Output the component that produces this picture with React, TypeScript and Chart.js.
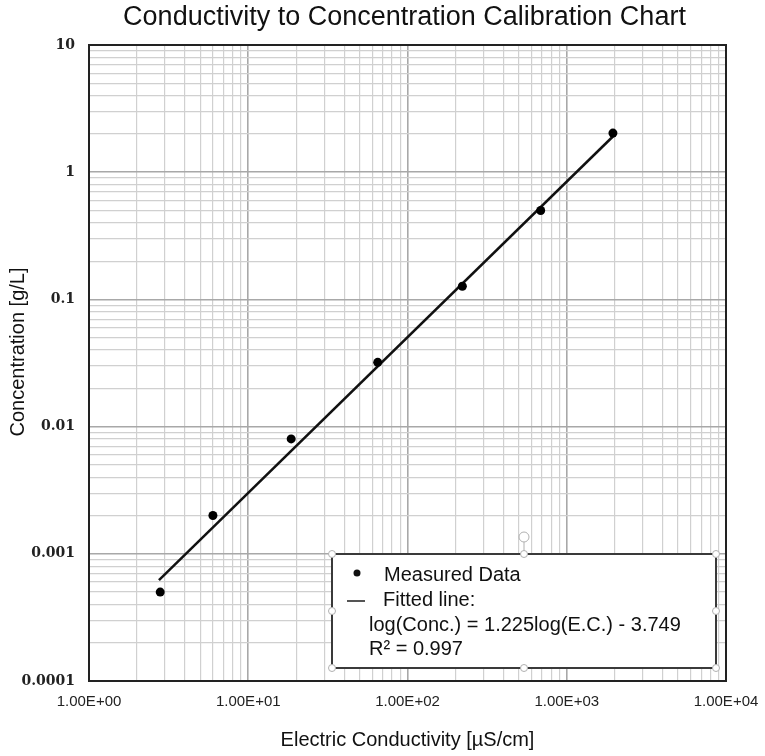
import React, { useEffect, useRef } from 'react';
import { Chart, registerables } from 'chart.js';

Chart.register(...registerables);

// ---- data ----
const conductivity = [2.8, 6.0, 18.6, 65, 221, 686, 1950];
const concentration = [0.0005, 0.002, 0.008, 0.032, 0.127, 0.5, 2.03];
const fitConductivity = [2.75, 2000];
const fitConcentration = [0.00062, 1.97];

const xMajorValues = [1, 10, 100, 1000, 10000];
const xMajorLabels = ['1.00E+00', '1.00E+01', '1.00E+02', '1.00E+03', '1.00E+04'];
const yMajorValues = [0.0001, 0.001, 0.01, 0.1, 1, 10];
const yMajorLabels = ['0.0001', '0.001', '0.01', '0.1', '1', '10'];

const chartTitle = 'Conductivity to Concentration Calibration Chart';
const xTitle = 'Electric Conductivity [\u00B5S/cm]';
const yTitle = 'Concentration [g/L]';
const seriesLabels = ['Measured Data', 'Fitted line:'];
const legendExtraLines = ['log(Conc.) = 1.225log(E.C.) - 3.749', 'R\u00B2 = 0.997'];

const SANS = '"Liberation Sans", Arial, sans-serif';
const SERIF = '"DejaVu Serif", "Liberation Serif", serif';

function isMajor(v: number): boolean {
  if (!(v > 0)) return false;
  const l = Math.log10(v);
  return Math.abs(l - Math.round(l)) < 1e-6;
}

function logTicks(minExp: number, maxExp: number) {
  const out: { value: number }[] = [];
  for (let e = minExp; e < maxExp; e++) {
    for (let m = 1; m <= 9; m++) out.push({ value: m * Math.pow(10, e) });
  }
  out.push({ value: Math.pow(10, maxExp) });
  return out;
}

function labelFor(values: number[], labels: string[], v: number): string {
  const i = values.findIndex((m) => Math.abs(Math.log10(m) - Math.log10(v)) < 1e-6);
  return i >= 0 ? labels[i] : '';
}

const decorPlugin = {
  id: 'decor',
  beforeDatasetsDraw(chart: any) {
    const { ctx, chartArea: a } = chart;
    ctx.save();
    ctx.strokeStyle = '#222';
    ctx.lineWidth = 2;
    ctx.strokeRect(a.left, a.top, a.right - a.left, a.bottom - a.top);
    ctx.restore();
  },
  afterDraw(chart: any) {
    const { ctx, chartArea: a } = chart;
    ctx.save();
    // main title
    ctx.fillStyle = '#111';
    ctx.font = `27px ${SANS}`;
    ctx.textAlign = 'center';
    ctx.textBaseline = 'middle';
    ctx.fillText(chartTitle, (a.left + a.right) / 2 - 3, 18);

    // y axis title
    ctx.save();
    ctx.translate(18, 352);
    ctx.rotate(-Math.PI / 2);
    ctx.font = `20px ${SANS}`;
    ctx.fillText(yTitle, 0, 0);
    ctx.restore();

    // legend box
    const L = a.right - 394;
    const R = a.right - 10;
    const T = a.bottom - 127;
    const B = a.bottom - 13;
    ctx.fillStyle = '#fff';
    ctx.fillRect(L, T, R - L, B - T);
    ctx.strokeStyle = '#3a3a3a';
    ctx.lineWidth = 2;
    ctx.strokeRect(L, T, R - L, B - T);

    // selection handles
    const mx = (L + R) / 2;
    const my = (T + B) / 2;
    ctx.strokeStyle = '#b0b0b0';
    ctx.lineWidth = 1;
    ctx.beginPath();
    ctx.moveTo(mx, T);
    ctx.lineTo(mx, T - 13);
    ctx.stroke();
    ctx.beginPath();
    ctx.arc(mx, T - 17, 5, 0, Math.PI * 2);
    ctx.fillStyle = '#fff';
    ctx.fill();
    ctx.stroke();
    const handles = [
      [L, T], [mx, T], [R, T], [L, my], [R, my], [L, B], [mx, B], [R, B],
    ];
    for (const [hx, hy] of handles) {
      ctx.beginPath();
      ctx.arc(hx, hy, 3.5, 0, Math.PI * 2);
      ctx.fillStyle = '#fff';
      ctx.fill();
      ctx.stroke();
    }

    // legend entries
    ctx.fillStyle = '#111';
    ctx.beginPath();
    ctx.arc(L + 25, T + 19, 3.5, 0, Math.PI * 2);
    ctx.fill();
    ctx.strokeStyle = '#555';
    ctx.lineWidth = 2;
    ctx.beginPath();
    ctx.moveTo(L + 15, T + 47);
    ctx.lineTo(L + 33, T + 47);
    ctx.stroke();

    ctx.font = `20px ${SANS}`;
    ctx.textAlign = 'left';
    ctx.textBaseline = 'alphabetic';
    ctx.fillStyle = '#111';
    ctx.fillText(chart.data.datasets[0].label, L + 52, T + 27);
    ctx.fillText(chart.data.datasets[1].label, L + 51, T + 52);
    ctx.fillText(legendExtraLines[0], L + 37, T + 77);
    ctx.fillText(legendExtraLines[1], L + 37, T + 101);
    ctx.restore();
  },
};

export default function App() {
  const canvasRef = useRef<HTMLCanvasElement | null>(null);

  useEffect(() => {
    if (!canvasRef.current) return;
    const chart = new Chart(canvasRef.current, {
      type: 'scatter',
      data: {
        datasets: [
          {
            label: seriesLabels[0],
            data: conductivity.map((x, i) => ({ x, y: concentration[i] })),
            pointRadius: 4.5,
            pointBackgroundColor: '#000',
            pointBorderColor: '#000',
            pointBorderWidth: 0,
            showLine: false,
            order: 1,
          },
          {
            label: seriesLabels[1],
            data: fitConductivity.map((x, i) => ({ x, y: fitConcentration[i] })),
            showLine: true,
            borderColor: '#111',
            borderWidth: 2.5,
            pointRadius: 0,
            order: 2,
          },
        ],
      },
      options: {
        responsive: false,
        animation: false,
        devicePixelRatio: 1,
        layout: { padding: { top: 45, right: 39, left: 0, bottom: 0 } },
        plugins: {
          legend: { display: false },
          title: { display: false },
          tooltip: { enabled: false },
        },
        scales: {
          x: {
            type: 'logarithmic',
            min: 1,
            max: 10000,
            afterBuildTicks: (scale: any) => {
              scale.ticks = logTicks(0, 4);
            },
            afterFit: (scale: any) => {
              scale.height = 75;
              scale.paddingLeft = 0;
              scale.paddingRight = 0;
            },
            border: { display: false },
            grid: {
              drawTicks: false,
              color: (c: any) => (isMajor(c.tick?.value) ? '#a8a8a8' : '#d0d0d0'),
              lineWidth: (c: any) => (isMajor(c.tick?.value) ? 1.6 : 1.2),
            },
            ticks: {
              autoSkip: false,
              maxRotation: 0,
              minRotation: 0,
              padding: 12,
              color: '#222',
              font: { family: SANS, size: 15 },
              callback: (v: any) => labelFor(xMajorValues, xMajorLabels, Number(v)),
            },
            title: {
              display: true,
              text: xTitle,
              color: '#111',
              font: { family: SANS, size: 20 },
              padding: { top: 0, bottom: 4 },
            },
          },
          y: {
            type: 'logarithmic',
            min: 0.0001,
            max: 10,
            afterBuildTicks: (scale: any) => {
              scale.ticks = logTicks(-4, 1);
            },
            afterFit: (scale: any) => {
              scale.width = 89;
            },
            border: { display: false },
            grid: {
              drawTicks: false,
              color: (c: any) => (isMajor(c.tick?.value) ? '#a8a8a8' : '#d0d0d0'),
              lineWidth: (c: any) => (isMajor(c.tick?.value) ? 1.6 : 1.2),
            },
            ticks: {
              autoSkip: false,
              padding: 14,
              color: '#222',
              font: { family: SERIF, size: 14, weight: 'bold' },
              callback: (v: any) => labelFor(yMajorValues, yMajorLabels, Number(v)),
            },
          },
        },
      },
      plugins: [decorPlugin],
    } as any);
    return () => chart.destroy();
  }, []);

  return (
    <div style={{ position: 'absolute', left: 0, top: 0, width: 765, height: 756, background: '#fff' }}>
      <canvas ref={canvasRef} width={765} height={756} style={{ display: 'block' }} />
    </div>
  );
}
